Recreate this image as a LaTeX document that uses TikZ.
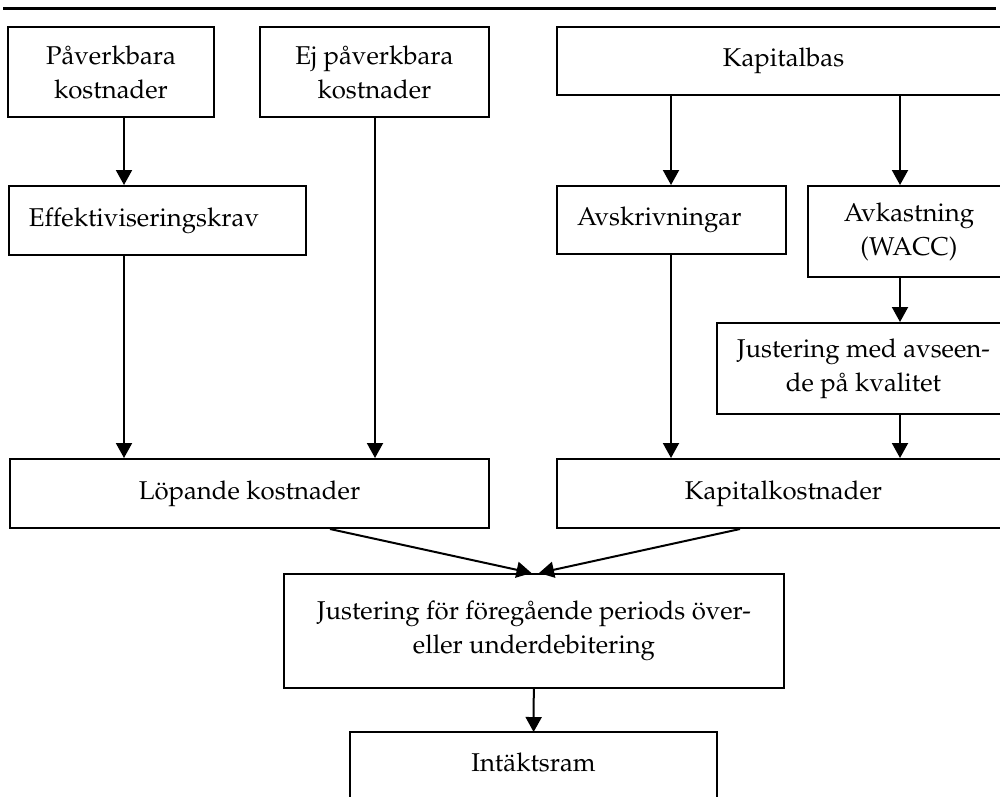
\documentclass[tikz,border=0pt]{standalone}
\usepackage[T1]{fontenc}
\usepackage{mathpazo}
\usepackage{tikz}
\usetikzlibrary{arrows.meta}

\begin{document}
\begin{tikzpicture}[x=0.4pt,y=-0.4pt,->,>={Triangle[length=6pt,width=6.4pt]},line width=0.8pt]
  \tikzstyle{box}=[rectangle, draw, line width=0.8pt, inner sep=0pt, align=center,
font=\fontsize{10.3}{13.6}\selectfont]
  \useasboundingbox (0,0) rectangle (1000,796);
  \clip (0,0) rectangle (1000,796);

  \draw[-, line width=1.2pt] (3,8) -- (996,8);

  \node[box, minimum width=82.4pt, minimum height=36pt] (B_pav) at (111,72) {P\aa verkbara\\kostnader};
  \node[box, minimum width=91.6pt, minimum height=36pt] (B_ejpav) at (374.5,72) {Ej p\aa verkbara\\kostnader};
  \node[box, minimum width=181.2pt, minimum height=27.2pt] (B_kapbas) at (783.5,61) {Kapitalbas};
  \node[box, minimum width=118.8pt, minimum height=27.6pt, text width=102.8pt, align=left] (B_eff) at (157.5,220.5) {Effektiviseringskrav};
  \node[box, minimum width=91.6pt, minimum height=27.2pt, text width=75.6pt, align=left] (B_avskr) at (671.5,220) {Avskrivningar};
  \node[box, minimum width=80.8pt, minimum height=36.4pt] (B_avk) at (909,231.5) {Avkastning\\(WACC)};
  \node[box, minimum width=117.2pt, minimum height=36.4pt] (B_just) at (863.5,368.5) {Justering med avseen-\\de p\aa{} kvalitet};
  \node[box, minimum width=191.6pt, minimum height=27.6pt] (B_lop) at (249.5,493.5) {L\"opande kostnader};
  \node[box, minimum width=181.2pt, minimum height=27.6pt] (B_kapk) at (783.5,493.5) {Kapitalkostnader};
  \node[box, minimum width=200pt, minimum height=45.6pt] (B_per) at (534,631) {Justering f\"or f\"oreg\aa ende periods \"over-\\eller underdebitering};
  \node[box, draw=none, minimum width=146pt, minimum height=23.2pt] (B_ram) at (533.5,762) {Int\"aktsram};
  \draw[-, line width=0.8pt] (B_ram.west |- 0,820) -- (B_ram.north west) -- (B_ram.north east) -- (B_ram.east |- 0,820);

  \draw (B_pav.south -| 124,0) -- (B_eff.north -| 124,0);
  \draw (B_eff.south -| 124,0) -- (B_lop.north -| 124,0);
  \draw (B_ejpav.south -| 375,0) -- (B_lop.north -| 375,0);
  \draw (B_kapbas.south -| 671,0) -- (B_avskr.north -| 671,0);
  \draw (B_kapbas.south -| 900,0) -- (B_avk.north -| 900,0);
  \draw (B_avk.south -| 900,0) -- (B_just.north -| 900,0);
  \draw (B_just.south -| 900,0) -- (B_kapk.north -| 900,0);
  \draw (B_avskr.south -| 671,0) -- (B_kapk.north -| 671,0);
  \draw (B_lop.south -| 330,0) -- ([xshift=-1pt]B_per.north);
  \draw (B_kapk.south -| 740,0) -- ([xshift=2pt]B_per.north);
  \draw (B_per) -- (B_ram);
\end{tikzpicture}
\end{document}
